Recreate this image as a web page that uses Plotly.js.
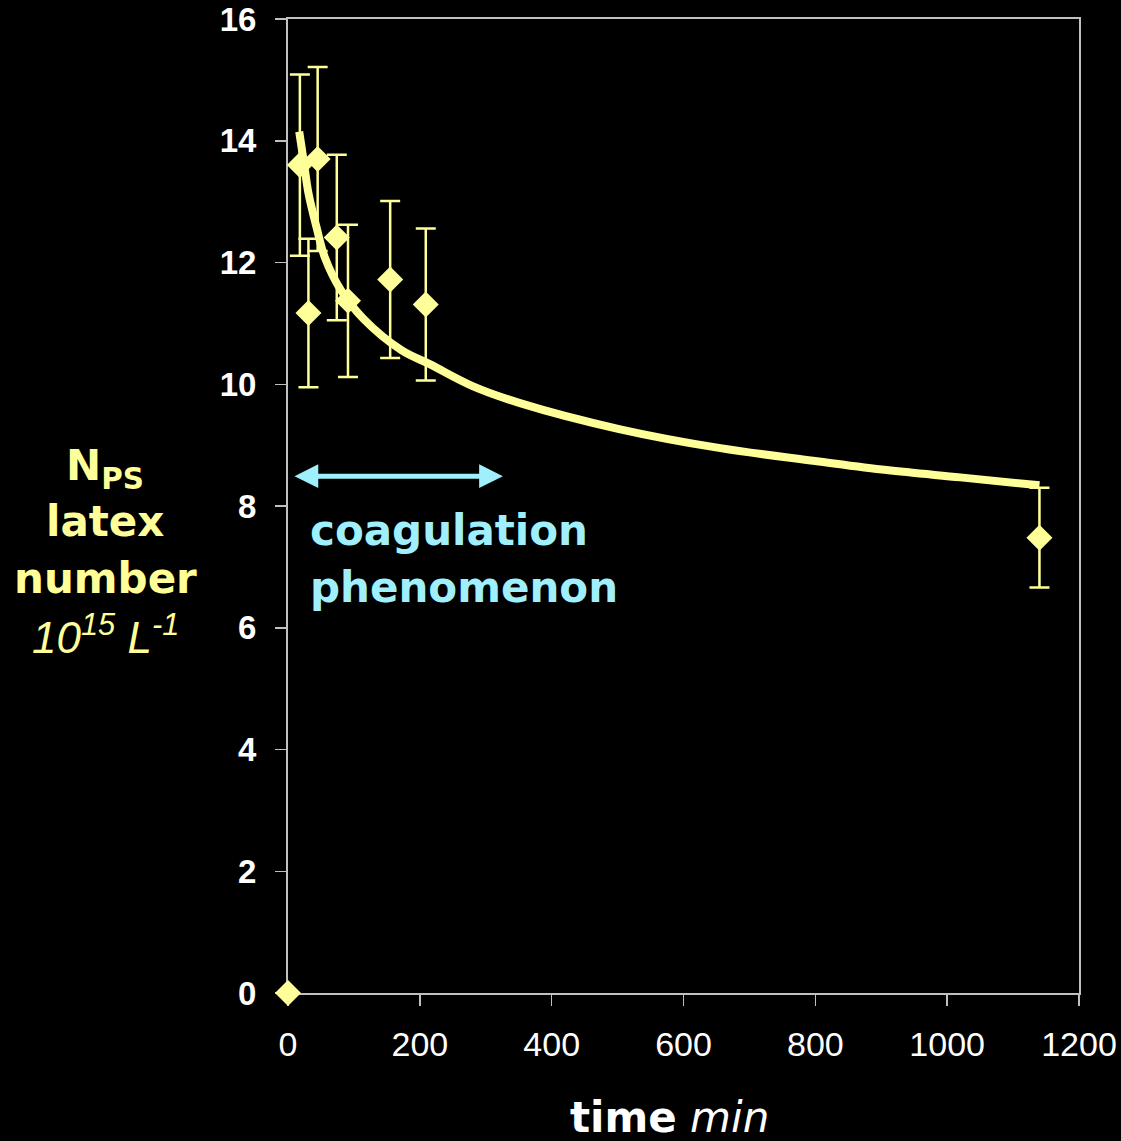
<!DOCTYPE html>
<html>
<head>
<meta charset="utf-8">
<script src="https://cdn.plot.ly/plotly-3.0.1.min.js"></script>
<style>html,body{margin:0;padding:0;background:#000;}</style>
</head>
<body>
<div id="chart" style="width:1121px;height:1141px;"></div>
<script>
// measured points (time in min, latex number in 10^15 L^-1)
const pointTime = [0, 18, 31, 45, 74, 91, 155, 209, 1140];
const pointValue = [0, 13.60, 11.17, 13.70, 12.41, 11.37, 11.72, 11.31, 7.48];
const pointError = [0, 1.49, 1.22, 1.51, 1.36, 1.25, 1.29, 1.25, 0.82];

// fitted curve
const curveTime = [17, 24, 31, 43, 56, 80, 114, 172, 215, 280, 352, 504, 656, 800, 908, 1020, 1140];
const curveValue = [14.15, 13.65, 13.14, 12.59, 12.08, 11.55, 11.08, 10.56, 10.33, 9.97, 9.69, 9.26, 8.95, 8.74, 8.59, 8.47, 8.34];

const xTicks = [0, 200, 400, 600, 800, 1000, 1200];
const yTicks = [0, 2, 4, 6, 8, 10, 12, 14, 16];

const YELLOW = '#ffff99';
const CYAN = '#9ff0fc';
const AXIS = '#c0c0c0';

const traces = [
  {
    x: curveTime, y: curveValue, type: 'scatter', mode: 'lines',
    line: {color: YELLOW, width: 8, shape: 'spline', smoothing: 1},
    hoverinfo: 'skip', showlegend: false
  },
  {
    x: pointTime, y: pointValue, type: 'scatter', mode: 'markers',
    marker: {symbol: 'diamond', size: 20, color: YELLOW},
    error_y: {type: 'data', array: pointError, visible: true, color: YELLOW, thickness: 2.5, width: 10},
    cliponaxis: false, showlegend: false
  }
];

const pyPaper = py => (993 - py) / 974;

const layout = {
  width: 1121, height: 1141,
  paper_bgcolor: '#000', plot_bgcolor: '#000',
  margin: {l: 288, r: 42, t: 19, b: 148},
  showlegend: false,
  xaxis: {
    range: [0, 1200], tickvals: xTicks, ticktext: xTicks.map(String),
    showgrid: false, zeroline: false, layer: 'below traces',
    showline: true, linecolor: AXIS, linewidth: 2, mirror: true,
    ticks: 'outside', ticklen: 11, tickwidth: 1.5, tickcolor: AXIS,
    tickfont: {family: 'Liberation Sans, Arial, sans-serif', size: 34, color: '#ffffff'},
    ticklabelstandoff: 9, ticklabeloverflow: 'allow'
  },
  yaxis: {
    range: [0, 16], tickvals: yTicks, ticktext: yTicks.map(String),
    showgrid: false, zeroline: false, layer: 'below traces',
    showline: true, linecolor: AXIS, linewidth: 2, mirror: true,
    ticks: 'outside', ticklen: 11, tickwidth: 1.5, tickcolor: AXIS,
    tickfont: {family: 'Liberation Sans, Arial, sans-serif', size: 33, color: '#ffffff', weight: 'bold'},
    ticklabelstandoff: 12, ticklabeloverflow: 'allow'
  },
  annotations: [
    // double arrow
    {x: 326, y: 8.49, ax: 7.6, ay: 8.49, xref: 'x', yref: 'y', axref: 'x', ayref: 'y',
     text: '', showarrow: true, arrowside: 'end+start', arrowhead: 2, startarrowhead: 2,
     arrowwidth: 5, arrowsize: 0.95, startarrowsize: 0.95, arrowcolor: CYAN},
    {x: 0.0253, y: pyPaper(530), xref: 'paper', yref: 'paper', xanchor: 'left', yanchor: 'middle',
     text: '<b>coagulation</b>', showarrow: false,
     font: {family: 'DejaVu Sans, Verdana, sans-serif', size: 42, color: CYAN}},
    {x: 0.0253, y: pyPaper(587), xref: 'paper', yref: 'paper', xanchor: 'left', yanchor: 'middle',
     text: '<b>phenomenon</b>', showarrow: false,
     font: {family: 'DejaVu Sans, Verdana, sans-serif', size: 42, color: CYAN}},
    // y-axis title
    {x: 0, xshift: -183, y: pyPaper(468), xref: 'paper', yref: 'paper', xanchor: 'center', yanchor: 'middle',
     text: '<b>N<sub>PS</sub></b>', showarrow: false,
     font: {family: 'DejaVu Sans, Verdana, sans-serif', size: 42, color: YELLOW}},
    {x: 0, xshift: -183, y: pyPaper(521), xref: 'paper', yref: 'paper', xanchor: 'center', yanchor: 'middle',
     text: '<b>latex</b>', showarrow: false,
     font: {family: 'DejaVu Sans, Verdana, sans-serif', size: 42, color: YELLOW}},
    {x: 0, xshift: -183, y: pyPaper(578), xref: 'paper', yref: 'paper', xanchor: 'center', yanchor: 'middle',
     text: '<b>number</b>', showarrow: false,
     font: {family: 'DejaVu Sans, Verdana, sans-serif', size: 42, color: YELLOW}},
    {x: 0, xshift: -183, y: pyPaper(634), xref: 'paper', yref: 'paper', xanchor: 'center', yanchor: 'middle',
     text: '<i>10<sup>15</sup> L<sup>-1</sup></i>', showarrow: false,
     font: {family: 'Liberation Sans Narrow, Liberation Sans, Arial, sans-serif', size: 44, color: YELLOW}},
    // x-axis title
    {x: 0, xshift: 381, y: pyPaper(1117), xref: 'paper', yref: 'paper', xanchor: 'center', yanchor: 'middle',
     text: '<b>time</b> <i>min</i>', showarrow: false,
     font: {family: 'DejaVu Sans, Verdana, sans-serif', size: 42, color: '#ffffff'}}
  ]
};

Plotly.newPlot('chart', traces, layout, {displayModeBar: false, staticPlot: true});
</script>
</body>
</html>
